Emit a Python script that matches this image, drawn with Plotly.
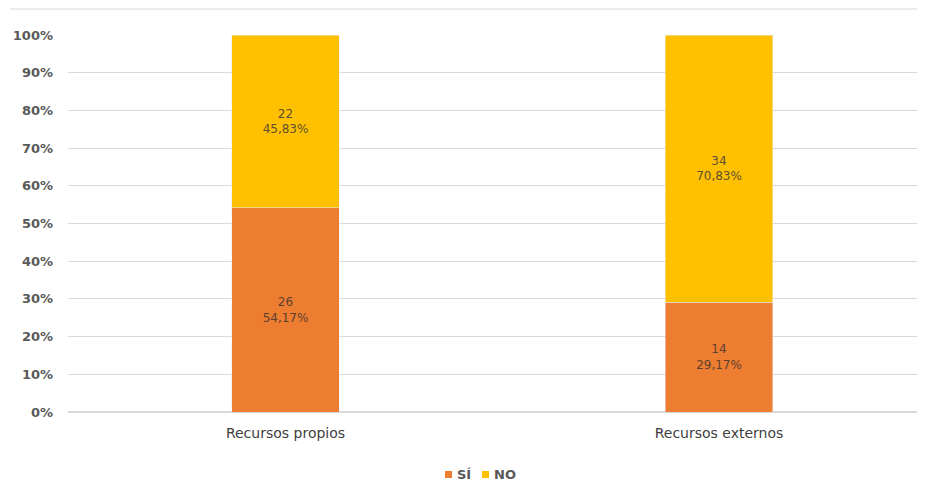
import plotly.graph_objects as go

categories = ["Recursos propios", "Recursos externos"]
series_names = ["SÍ", "NO"]
si_counts = [26, 14]
no_counts = [22, 34]
si_pct = [54.17, 29.17]
no_pct = [45.83, 70.83]
y_ticks = [0, 10, 20, 30, 40, 50, 60, 70, 80, 90, 100]
y_tick_labels = [f"{v}%" for v in y_ticks]
colors = ["#ED7D31", "#FFC000"]

def fmt(c, p):
    return f"{c}<br>{p:.2f}%".replace(".", ",")

FF = "DejaVu Sans, sans-serif"
OFF = 8  # page body margin offset
W, H = 925, 481 - OFF
L, R, T = 68 - OFF, 0, 35 - OFF
B = H - (412 - OFF)
pw, ph = W - L - R, H - T - B

def px(x):
    return (x - OFF - L) / pw

def py(y):
    return (H - B - (y - OFF)) / ph

fig = go.Figure()
for name, counts, pct, col, tcol in [
    (series_names[0], si_counts, si_pct, colors[0], "#5e4030"),
    (series_names[1], no_counts, no_pct, colors[1], "#5e5030"),
]:
    fig.add_trace(go.Bar(
        name=name, x=[0, 1], y=pct, marker_color=col,
        text=[fmt(c, p) for c, p in zip(counts, pct)],
        textposition="inside", insidetextanchor="middle",
        textfont=dict(color=tcol, size=12, family=FF),
        width=0.247, hoverinfo="skip", showlegend=False,
    ))

shapes = [dict(type="line", xref="paper", yref="paper", x0=px(10), x1=1.0,
               y0=py(9), y1=py(9), line=dict(color="#d9d9d9", width=1))]
annotations = []
legend_items = [(445, 455, series_names[0], colors[0]), (482, 492, series_names[1], colors[1])]
for sx, tx, name, col in legend_items:
    shapes.append(dict(type="rect", xref="paper", yref="paper",
                       x0=px(sx), x1=px(sx + 7), y0=py(478), y1=py(471),
                       fillcolor=col, line=dict(width=0)))
    annotations.append(dict(xref="paper", yref="paper", x=px(tx), y=py(474.5),
                            xanchor="left", yanchor="middle", showarrow=False,
                            text=f"<b>{name}</b>",
                            font=dict(family=FF, size=13, color="#595959")))

# x range so category centres land at 285.5 and 719 px in the picture
unit = 719 - 285.5
x0 = -((285.5 - OFF) - L) / unit
x1 = x0 + pw / unit

fig.update_layout(
    barmode="stack",
    width=W, height=H,
    margin=dict(l=L, r=R, t=T, b=B),
    plot_bgcolor="white", paper_bgcolor="white",
    font=dict(family=FF, color="#595959", size=13),
    uniformtext=dict(mode="show", minsize=12),
    showlegend=False,
    xaxis=dict(range=[x0, x1], tickvals=[0, 1], ticktext=categories,
               showgrid=False, zeroline=False, showline=False, ticks="",
               automargin=False, ticklabelstandoff=11,
               tickfont=dict(size=14, color="#404040", family=FF)),
    yaxis=dict(range=[0, 100], tickvals=y_ticks, ticktext=y_tick_labels,
               showgrid=True, gridcolor="#d9d9d9", gridwidth=1,
               zeroline=True, zerolinecolor="#d9d9d9", showline=False,
               ticks="", ticklabelstandoff=14, automargin=False,
               tickfont=dict(size=13, color="#595959", family=FF, weight=700)),
    shapes=shapes,
    annotations=annotations,
)
fig.write_html("out.html")
